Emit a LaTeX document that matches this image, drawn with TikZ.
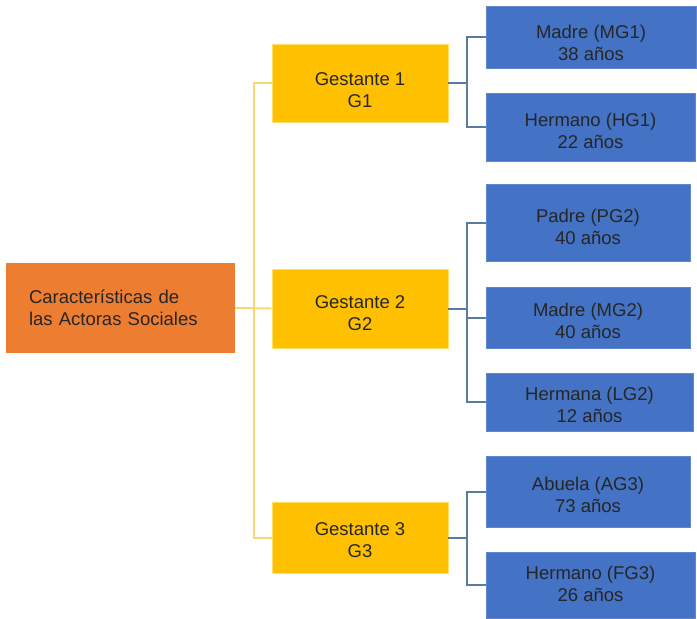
\documentclass[tikz,border=0pt]{standalone}
\usepackage{fontspec}
\setmainfont{Liberation Sans}
\definecolor{rootc}{HTML}{ED7D31}
\definecolor{goldc}{HTML}{FFC000}
\definecolor{bluec}{HTML}{4472C4}
\definecolor{txtc}{HTML}{262626}
\definecolor{ylinec}{HTML}{F7D874}
\definecolor{blinec}{HTML}{5B7A9E}
\newcommand\lowtext[2]{\raisebox{-#1pt}[\height][\depth]{\begin{tabular}{@{}c@{}}#2\end{tabular}}}
\begin{document}
\begin{tikzpicture}[x=1pt,y=-1pt,
  every node/.style={font=\fontsize{18.5}{21.7}\selectfont, text=txtc, inner sep=0pt, align=center},
  rootbox/.style={fill=rootc, minimum width=229pt, minimum height=90pt, text width=183pt, inner xsep=23pt, align=left},
  goldbox/.style={fill=goldc, draw=goldc!80!yellow!60!white, line width=0.6pt, minimum width=176pt},
  bluebox/.style={fill=bluec, draw=bluec!85!white, line width=0.6pt},
  yline/.style={draw=ylinec, line width=2pt},
  bline/.style={draw=blinec, line width=2pt}]
\useasboundingbox (0,0) rectangle (697,619);
% root
\node[rootbox] (root) at (120.5,308) {Características de\\las Actoras Sociales};
% gestantes
\node[goldbox, minimum height=78pt] (g1) at (360,83) {\lowtext{9}{Gestante 1\\G1}};
\node[goldbox, minimum height=79pt] (g2) at (360,308.5) {\lowtext{7}{Gestante 2\\G2}};
\node[goldbox, minimum height=71pt] (g3) at (360,537.5) {\lowtext{4.5}{Gestante 3\\G3}};
% actors
\node[bluebox, minimum width=210pt, minimum height=62pt] (mg1) at (591,37) {\lowtext{8.5}{Madre (MG1)\\38 años}};
\node[bluebox, minimum width=209pt, minimum height=68pt] (hg1) at (590.5,127) {\lowtext{6.5}{Hermano (HG1)\\22 años}};
\node[bluebox, minimum width=204pt, minimum height=77pt] (pg2) at (588,222.5) {\lowtext{6.5}{Padre (PG2)\\40 años}};
\node[bluebox, minimum width=204pt, minimum height=61pt] (mg2) at (588,317.5) {\lowtext{6}{Madre (MG2)\\40 años}};
\node[bluebox, minimum width=207pt, minimum height=58pt] (lg2) at (589.5,402) {\lowtext{5}{Hermana (LG2)\\12 años}};
\node[bluebox, minimum width=204pt, minimum height=71pt] (ag3) at (588,491.5) {\lowtext{5.5}{Abuela (AG3)\\73 años}};
\node[bluebox, minimum width=209pt, minimum height=66pt] (fg3) at (590.5,585) {\lowtext{1.5}{Hermano (FG3)\\26 años}};
% yellow connectors
\draw[yline] (root.east) -- (g2.west);
\draw[yline] (g1.west) -- ++(-18,0) |- (g3.west);
% blue connectors
\draw[bline] (g1.east) -- ++(19,0);
\draw[bline] (mg1.west) -- ++(-19,0) |- (hg1.west);
\draw[bline] (g2.east) -- ++(19,0);
\draw[bline] (pg2.west) -- ++(-19,0) |- (lg2.west);
\draw[bline] (mg2.west) -- ++(-19,0);
\draw[bline] (g3.east) -- ++(19,0);
\draw[bline] (ag3.west) -- ++(-19,0) |- (fg3.west);
\end{tikzpicture}
\end{document}
